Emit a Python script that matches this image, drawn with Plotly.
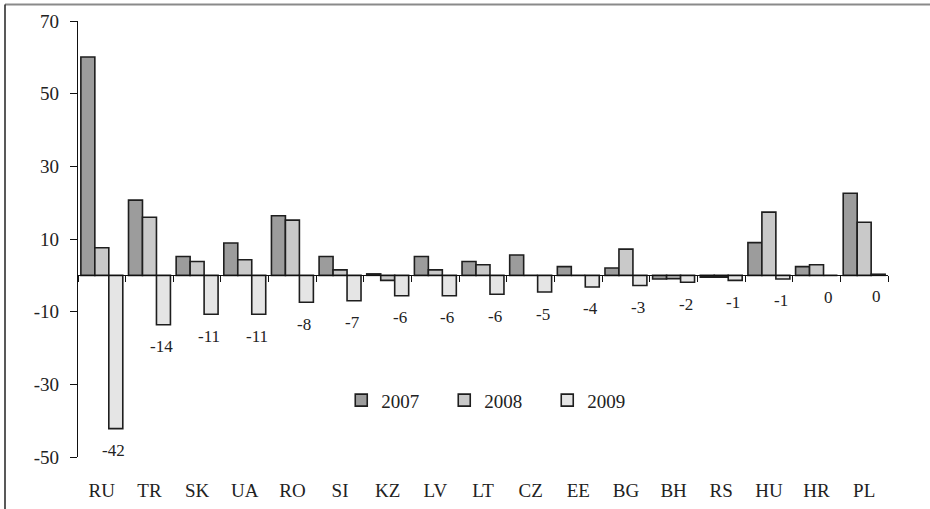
import plotly.graph_objects as go

countries = ["RU", "TR", "SK", "UA", "RO", "SI", "KZ", "LV", "LT", "CZ", "EE", "BG", "BH", "RS", "HU", "HR", "PL"]
v2007 = [60.1, 20.7, 5.2, 8.9, 16.4, 5.2, 0.4, 5.2, 3.8, 5.6, 2.4, 2.0, -1.0, -0.5, 9.0, 2.4, 22.6]
v2008 = [7.6, 16.0, 3.8, 4.3, 15.2, 1.5, -1.4, 1.5, 2.9, 0.0, 0.0, 7.2, -0.9, -0.5, 17.4, 2.9, 14.6]
v2009 = [-42.2, -13.6, -10.7, -10.7, -7.4, -7.0, -5.6, -5.6, -5.2, -4.6, -3.2, -2.8, -1.9, -1.4, -1.0, 0.0, 0.3]
labels_2009 = [-42, -14, -11, -11, -8, -7, -6, -6, -6, -5, -4, -3, -2, -1, -1, 0, 0]
series_names = ["2007", "2008", "2009"]
y_ticks = [70, 50, 30, 10, -10, -30, -50]

colors = ["#9c9c9c", "#c9c9c9", "#e5e5e5"]
outline = "#1e1e1e"
FONT = "Liberation Serif, Times New Roman, serif"

W, H = 930, 509
ML, MR, MT, MB = 78, 42, 21, 52
ymin, ymax = -50, 70

fig = go.Figure()
for name, vals, col in zip(series_names, [v2007, v2008, v2009], colors):
    fig.add_trace(go.Bar(
        x=countries, y=vals, name=name,
        marker=dict(color=col, line=dict(color=outline, width=1.6)),
    ))

for c, v, lab in zip(countries, v2009, labels_2009):
    fig.add_annotation(
        x=c, y=v, text=str(lab), showarrow=False,
        xshift=12, yshift=-22, yanchor="middle",
        font=dict(family=FONT, size=17, color="#222"),
    )

# outer frame (top and left edges visible)
pw = W - ML - MR
ph = H - MT - MB
fx0 = (5 - ML) / pw
fy1 = (H - MB - 4.5) / ph
fig.add_shape(type="line", xref="paper", yref="paper", x0=fx0, x1=(W + 10 - ML) / pw, y0=fy1, y1=fy1,
              line=dict(color="#8a8a8a", width=2))
fig.add_shape(type="line", xref="paper", yref="paper", x0=fx0, x1=fx0, y0=fy1, y1=-(MB + 10) / ph,
              line=dict(color="#222", width=1.5))

fig.update_layout(
    width=W, height=H,
    margin=dict(l=ML, r=MR, t=MT, b=MB, autoexpand=False),
    paper_bgcolor="white", plot_bgcolor="white",
    font=dict(family=FONT, size=19, color="#222"),
    bargap=0.12, bargroupgap=0,
    showlegend=True,
    legend=dict(orientation="h", x=0.325, xanchor="left", y=0.13, yanchor="middle",
                font=dict(family=FONT, size=19, color="#222"),
                bgcolor="rgba(0,0,0,0)", entrywidth=58, entrywidthmode="pixels"),
    xaxis=dict(
        type="category", anchor="free", position=(0 - ymin) / (ymax - ymin),
        automargin=False,
        showline=True, linecolor="#111", linewidth=1.2,
        ticks="outside", ticklen=6, tickcolor="#111", tickwidth=1.2,
        tickson="boundaries", showgrid=False, zeroline=False,
        ticklabelstandoff=198,
        tickfont=dict(family=FONT, size=19, color="#222"),
    ),
    yaxis=dict(
        range=[ymin, ymax], tickvals=y_ticks, ticktext=[str(t) for t in y_ticks],
        automargin=False,
        showline=True, linecolor="#111", linewidth=1.2,
        ticks="outside", ticklen=7, tickcolor="#111", tickwidth=1.2,
        showgrid=False, zeroline=False,
        ticklabelstandoff=7,
        tickfont=dict(family=FONT, size=19, color="#222"),
    ),
)

fig.write_html("out.html", config={"displayModeBar": False},
               post_script="document.body.style.margin='0';")
